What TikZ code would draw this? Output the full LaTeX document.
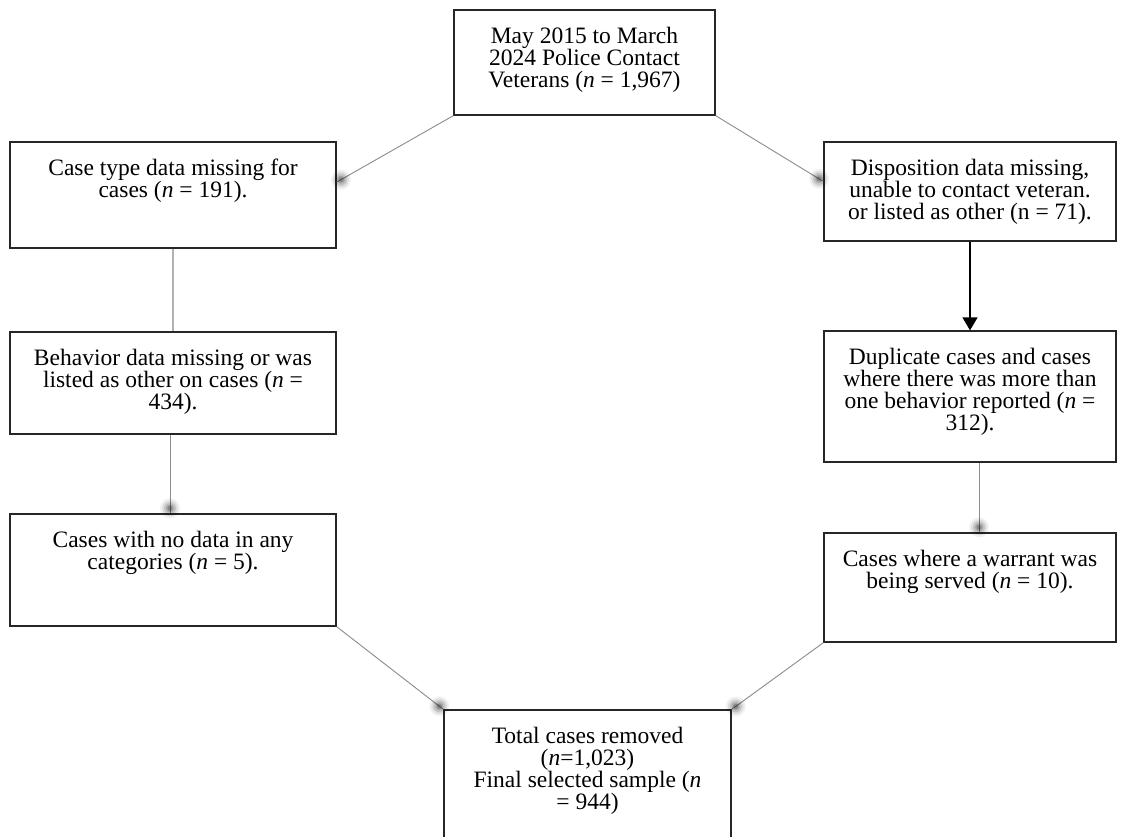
\documentclass[tikz,border=0pt]{standalone}
\usepackage{fontspec}
\setmainfont{Liberation Serif}
\usetikzlibrary{calc,arrows.meta,decorations.markings}
\newcommand\bxt[3]{\parbox[c][#2pt][t]{#1pt}{\centering\rule{0pt}{33pt}#3}}
\tikzset{
  flowbox/.style={draw=black!85, line width=1.3pt, inner sep=0pt, anchor=center, font=\fontsize{23.5}{22}\selectfont},
  conn/.style={draw=black!45, line width=0.9pt},
  softend/.style={postaction={decorate, decoration={markings, mark=at position -5pt with {
      \fill[black,opacity=0.05] (0,0) circle (10pt);
      \fill[black,opacity=0.08] (0,0) circle (8pt);
      \fill[black,opacity=0.12] (0,0) circle (6pt);
      \fill[black,opacity=0.15] (0,0) circle (4pt);
      \fill[black,opacity=0.18] (0,0) circle (2.5pt);}}}},
  solidarrow/.style={draw=black, line width=1.3pt, -{Triangle[width=15pt,length=13pt]}}
}
\begin{document}
\begin{tikzpicture}[x=1pt,y=-1pt]
\useasboundingbox (0,0) rectangle (1126,836);
\clip (0,0) rectangle (1126,836);
\fill[white] (0,0) rectangle (1126,836);

\node[flowbox] (t) at (584.5,62.5) {\bxt{261}{105}{May 2015 to March\\2024 Police Contact\\Veterans (\textit{n} = 1,967)}};
\node[flowbox] (l1) at (173,195) {\bxt{326}{106}{Case type data missing for\\cases (\textit{n} = 191).}};
\node[flowbox] (r1) at (970,191.5) {\bxt{292}{99}{Disposition data missing,\\unable to contact veteran.\\or listed as other (n = 71).}};
\node[flowbox] (l2) at (173,383) {\bxt{326}{102}{Behavior data missing or was\\listed as other on cases (\textit{n} =\\434).}};
\node[flowbox] (r2) at (970,396.5) {\bxt{292}{131}{Duplicate cases and cases\\where there was more than\\one behavior reported (\textit{n} =\\312).}};
\node[flowbox] (l3) at (173,570) {\bxt{326}{112}{Cases with no data in any\\categories (\textit{n} = 5).}};
\node[flowbox] (r3) at (970,587.5) {\bxt{292}{109}{Cases where a warrant was\\being served (\textit{n} = 10).}};
\node[flowbox] (b) at (587.5,777.5) {\bxt{287}{135}{Total cases removed\\(\textit{n}=1,023)\\Final selected sample (\textit{n}\\= 944)}};

\draw[conn,softend] (t.south west) -- ($(l1.north east)!0.38!(l1.south east)$);
\draw[conn,softend] (t.south east) -- ($(r1.north west)!0.40!(r1.south west)$);
\draw[draw=black!30, line width=1.2pt] (l1.south) -- (l2.north);
\draw[conn,softend] ($(l2.south)+(-3,0)$) -- ($(l3.north)+(-3,0)$);
\draw[solidarrow] (r1.south) -- (r2.north);
\draw[conn,softend] ($(r2.south)+(9,0)$) -- ($(r3.north)+(9,0)$);
\draw[conn,softend] (l3.south east) -- (b.north west);
\draw[conn,softend] (r3.south west) -- (b.north east);
\end{tikzpicture}
\end{document}
